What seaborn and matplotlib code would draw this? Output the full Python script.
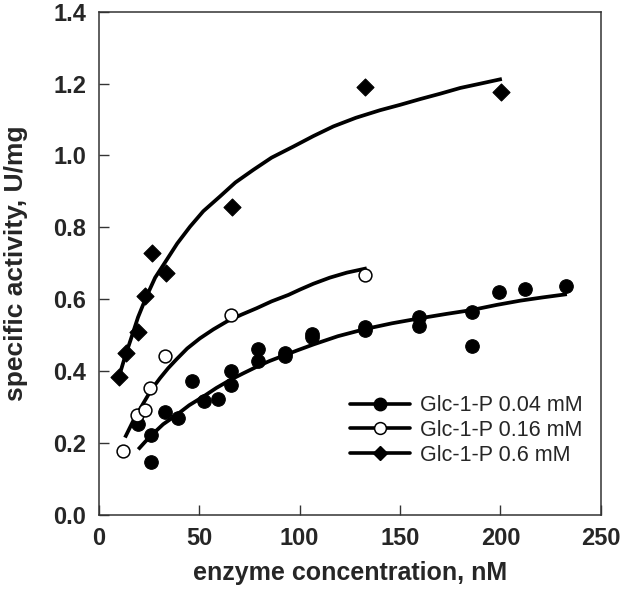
import matplotlib
matplotlib.use("Agg")
import matplotlib.pyplot as plt
from matplotlib.lines import Line2D
import pandas as pd
import seaborn as sns

# measured points, enzyme concentration (nM) vs specific activity (U/mg)
x_004 = [19.6, 25.9, 25.9, 32.9, 39.5, 46.2, 52.5, 59.2, 65.8, 65.8, 79.4, 79.4,
         92.7, 92.7, 105.9, 106.0, 132.6, 132.6, 159.6, 159.6, 185.6, 185.6,
         199.4, 212.4, 232.7]
y_004 = [0.252, 0.146, 0.222, 0.285, 0.268, 0.372, 0.318, 0.321, 0.400, 0.361,
         0.461, 0.428, 0.451, 0.442, 0.496, 0.502, 0.515, 0.522, 0.551, 0.526,
         0.565, 0.470, 0.621, 0.628, 0.638]

x_016 = [12.1, 18.8, 22.9, 25.4, 32.9, 65.8, 132.3]
y_016 = [0.178, 0.278, 0.292, 0.354, 0.442, 0.556, 0.666]

x_06 = [10.0, 13.3, 19.6, 22.9, 26.3, 33.2, 66.1, 132.6, 200.3]
y_06 = [0.384, 0.450, 0.508, 0.609, 0.730, 0.672, 0.858, 1.190, 1.178]

# fitted curves
fit_x_004 = [19.6, 23.0, 26.3, 32.0, 38.7, 45.0, 52.0, 58.5, 65.3, 72.0, 78.6,
             85.0, 92.0, 99.0, 106.8, 119.0, 132.6, 146.0, 160.0, 173.0, 185.8,
             198.0, 209.9, 221.0, 233.1]
fit_y_004 = [0.182, 0.203, 0.222, 0.252, 0.278, 0.305, 0.329, 0.353, 0.375,
             0.394, 0.412, 0.428, 0.443, 0.458, 0.474, 0.497, 0.517, 0.533,
             0.547, 0.559, 0.570, 0.584, 0.596, 0.605, 0.614]

fit_x_016 = [13.0, 17.5, 22.1, 26.0, 30.4, 34.5, 38.7, 44.0, 50.3, 57.0, 63.7,
             71.0, 78.6, 86.0, 94.4, 100.2, 106.8, 115.0, 123.5, 133.4]
fit_y_016 = [0.215, 0.266, 0.310, 0.347, 0.380, 0.408, 0.433, 0.463, 0.491,
             0.516, 0.538, 0.557, 0.575, 0.594, 0.612, 0.627, 0.643, 0.660,
             0.674, 0.686]

fit_x_06 = [10.0, 13.0, 16.0, 19.5, 23.5, 28.0, 33.7, 39.0, 45.4, 52.0, 60.3,
            68.0, 76.9, 86.0, 96.9, 106.8, 116.8, 128.0, 140.0, 150.0, 160.0,
            170.0, 180.0, 190.0, 200.7]
fit_y_06 = [0.384, 0.440, 0.490, 0.550, 0.605, 0.660, 0.709, 0.755, 0.802,
            0.845, 0.886, 0.925, 0.960, 0.994, 1.025, 1.054, 1.081, 1.105,
            1.126, 1.141, 1.157, 1.172, 1.188, 1.200, 1.213]

labels = ["Glc-1-P 0.04 mM", "Glc-1-P 0.16 mM", "Glc-1-P 0.6 mM"]
x_ticks = [0, 50, 100, 150, 200, 250]
y_ticks = [0.0, 0.2, 0.4, 0.6, 0.8, 1.0, 1.2, 1.4]

sns.set_style("ticks")
plt.rcParams["font.family"] = ["Liberation Sans", "DejaVu Sans"]

fig, ax = plt.subplots(figsize=(6.22, 5.89), dpi=100)
fig.subplots_adjust(left=0.159, right=0.966, top=0.980, bottom=0.126)

fits = [(fit_x_004, fit_y_004), (fit_x_016, fit_y_016), (fit_x_06, fit_y_06)]
for fx, fy in fits:
    line_df = pd.DataFrame({"x": fx, "y": fy})
    sns.lineplot(data=line_df, x="x", y="y", ax=ax, color="black", linewidth=2.7,
                 estimator=None, sort=False, legend=False)
for line in ax.lines:
    line.set_solid_joinstyle("round")
    line.set_solid_capstyle("butt")

points = pd.DataFrame({"x": x_004, "y": y_004})
sns.scatterplot(data=points, x="x", y="y", ax=ax, color="black", marker="o",
                s=95, edgecolor="black", linewidth=0.8, zorder=3, legend=False)
points = pd.DataFrame({"x": x_016, "y": y_016})
sns.scatterplot(data=points, x="x", y="y", ax=ax, facecolor="white", marker="o",
                s=85, edgecolor="black", linewidth=1.1, zorder=3, legend=False)
points = pd.DataFrame({"x": x_06, "y": y_06})
sns.scatterplot(data=points, x="x", y="y", ax=ax, color="black", marker="D",
                s=75, edgecolor="black", linewidth=0.8, zorder=3, legend=False)

ax.set_xlim(0, 250)
ax.set_ylim(0, 1.4)
ax.set_xticks(x_ticks)
ax.set_xticklabels([str(t) for t in x_ticks])
ax.set_yticks(y_ticks)
ax.set_yticklabels([f"{t:.1f}" for t in y_ticks])
ax.tick_params(direction="in", length=7.5, width=1.0, color="#333333",
               labelsize=17, pad=9, top=False, right=False)
for label in ax.get_xticklabels() + ax.get_yticklabels():
    label.set_fontweight("bold")
for spine in ax.spines.values():
    spine.set_visible(True)
    spine.set_linewidth(1.1)
    spine.set_color("#333333")

ax.set_xlabel("enzyme concentration, nM", fontsize=18, fontweight="bold", labelpad=8)
ax.set_ylabel("specific activity, U/mg", fontsize=19, fontweight="bold", labelpad=18)

handles = [
    Line2D([], [], color="black", lw=2.6, marker="o", markersize=9,
           markerfacecolor="black", markeredgecolor="black"),
    Line2D([], [], color="black", lw=2.6, marker="o", markersize=8.5,
           markerfacecolor="white", markeredgecolor="black", markeredgewidth=1.1),
    Line2D([], [], color="black", lw=2.6, marker="D", markersize=7.5,
           markerfacecolor="black", markeredgecolor="black"),
]
ax.legend(handles, labels, loc="upper left", bbox_to_anchor=(0.50, 0.238),
          frameon=False, fontsize=15.5, handlelength=2.8, handletextpad=0.45,
          labelspacing=0.18, borderpad=0, borderaxespad=0)

fig.savefig("out.png", dpi=100)
